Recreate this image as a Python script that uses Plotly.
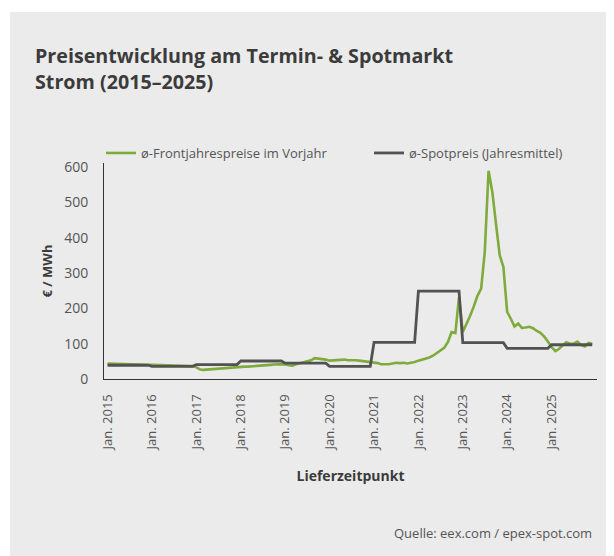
import pandas as pd
import plotly.graph_objects as go

# ---------------- data ----------------
months = pd.date_range("2015-01-01", "2025-12-01", freq="MS")

front_2015 = [44, 43.5, 43, 42.5, 42, 42, 42, 41.5, 41.5, 41, 41, 40.5]
front_2016 = [40.5, 40, 40, 39.5, 39.5, 39, 38.5, 38.5, 38, 37.5, 37, 36.5]
front_2017 = [33, 27, 26, 27, 28, 29, 30, 31, 32, 33, 33, 34]
front_2018 = [35, 35, 35, 35.5, 36, 37, 38, 39, 40, 41, 42, 43]
front_2019 = [42, 39, 38, 42, 45, 48, 50, 53, 59, 58, 56, 55]
front_2020 = [52, 53, 55, 54, 55, 53, 54, 53, 52, 51, 50, 49]
front_2021 = [47, 45, 42, 41, 42, 44, 46, 45, 46, 44, 45, 48]
front_2022 = [52, 55, 58, 61, 66, 73, 79, 88, 105, 133, 130, 232]
front_2023 = [133, 155, 178, 205, 235, 256, 360, 590, 530, 440, 350, 318]
front_2024 = [190, 170, 149, 157, 145, 146, 148, 144, 136, 131, 120, 106]
front_2025 = [90, 79, 85, 95, 104, 100, 100, 106, 96, 92, 102, 100]
frontjahr = (front_2015 + front_2016 + front_2017 + front_2018 + front_2019 + front_2020
             + front_2021 + front_2022 + front_2023 + front_2024 + front_2025)

spot_years = [2015, 2016, 2017, 2018, 2019, 2020, 2021, 2022, 2023, 2024, 2025]
spot_annual = [39, 36, 41, 51, 45, 36, 104, 249, 103, 87, 97]
spot = [v for v in spot_annual for _ in range(12)]

tick_dates = [f"{y}-01-01" for y in spot_years]
tick_labels = [f"Jan. {y}" for y in spot_years]

name_front = "ø-Frontjahrespreise im Vorjahr"
name_spot = "ø-Spotpreis (Jahresmittel)"

# ---------------- layout helpers ----------------
# the page body has an 8px margin, so the figure is placed at (8, 8)
OFF = 8
W, H = 614 - OFF, 556 - OFF
ML, MR, MT, MB = 104 - OFF, 17, 163 - OFF, 177
PW, PH = W - ML - MR, H - MT - MB


def px(x):  # screen x -> paper
    return (x - OFF - ML) / PW


def py(y):  # screen y -> paper
    return (H - MB - (y - OFF)) / PH


GREEN = "#7fab3c"
DARK = "#525252"
TXT = "#3b3b3b"
GREY_TXT = "#555555"
BG = "#ebebeb"
FONT = "Open Sans"

fig = go.Figure()
fig.add_trace(go.Scatter(x=months, y=frontjahr, mode="lines", name=name_front,
                         line=dict(color=GREEN, width=2.6), legend="legend"))
fig.add_trace(go.Scatter(x=months, y=spot, mode="lines", name=name_spot,
                         line=dict(color=DARK, width=2.8), legend="legend2"))

legend_common = dict(orientation="h", xanchor="left", yanchor="middle",
                     font=dict(size=13, color=GREY_TXT, family=FONT),
                     bgcolor="rgba(0,0,0,0)", itemwidth=30)

fig.update_layout(
    width=W, height=H,
    margin=dict(l=ML, r=MR, t=MT, b=MB, pad=0),
    paper_bgcolor="white",
    plot_bgcolor="rgba(0,0,0,0)",
    font=dict(family=FONT, color=GREY_TXT, size=13),
    showlegend=True,
    legend=dict(x=px(101), y=py(153), **legend_common),
    legend2=dict(x=px(369), y=py(153), **legend_common),
    shapes=[dict(type="rect", xref="paper", yref="paper",
                 x0=px(10), x1=px(620), y0=py(560), y1=py(12),
                 fillcolor=BG, line=dict(width=0), layer="below")],
)

fig.update_xaxes(
    type="date", range=["2014-12-03", "2026-01-09"],
    tickvals=tick_dates, ticktext=tick_labels, tickangle=-90,
    tickfont=dict(size=13, color=GREY_TXT, family=FONT),
    showgrid=False, zeroline=False, showline=True, linecolor="#333333", linewidth=1,
    ticks="", ticklabelstandoff=9,
    title=dict(text="<b>Lieferzeitpunkt</b>", font=dict(size=14, color=TXT, family=FONT),
               standoff=20),
)
fig.update_yaxes(
    range=[0, 612], tickvals=[0, 100, 200, 300, 400, 500, 600],
    tickfont=dict(size=14, color=GREY_TXT, family=FONT),
    showgrid=False, zeroline=False, showline=True, linecolor="#333333", linewidth=1,
    ticks="", ticklabelstandoff=12,
    title=dict(text="<b>€ / MWh</b>", font=dict(size=13, color=TXT, family=FONT), standoff=8),
)

fig.add_annotation(text="<b>Preisentwicklung am Termin- & Spotmarkt<br>Strom (2015–2025)</b>",
                   xref="paper", yref="paper", x=px(33), y=py(40), xanchor="left", yanchor="top",
                   align="left", showarrow=False,
                   font=dict(size=19.7, color=TXT, family=FONT))
fig.add_annotation(text="Quelle: eex.com / epex-spot.com",
                   xref="paper", yref="paper", x=px(594), y=py(533), xanchor="right", yanchor="middle",
                   showarrow=False, font=dict(size=13, color=GREY_TXT, family=FONT))

fig.write_html("out.html")
